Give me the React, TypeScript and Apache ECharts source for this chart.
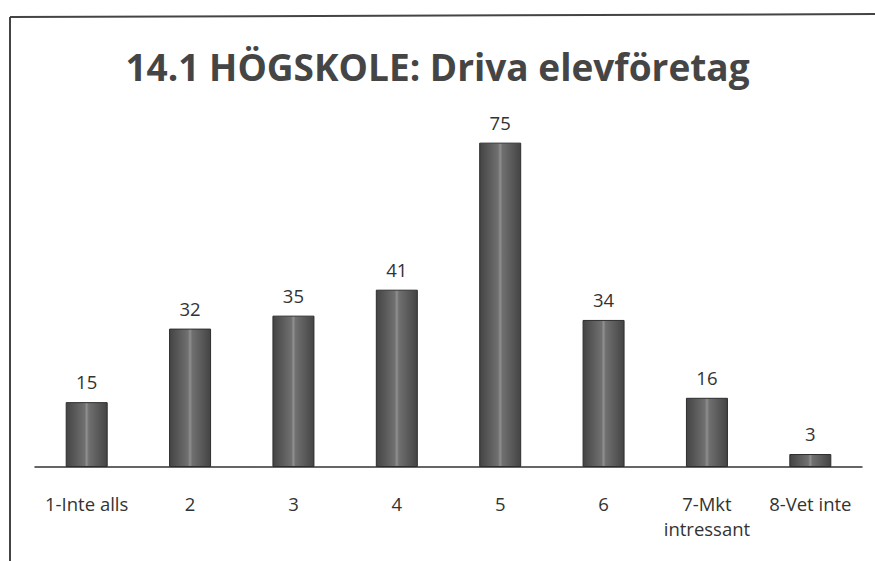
import React, { useEffect, useRef } from "react";
import * as echarts from "echarts";

const categories = ["1-Inte alls", "2", "3", "4", "5", "6", "7-Mkt\nintressant", "8-Vet inte"];
const values = [15, 32, 35, 41, 75, 34, 16, 3];
const titleText = "14.1 HÖGSKOLE: Driva elevföretag";

export default function App() {
  const ref = useRef<HTMLDivElement>(null);
  useEffect(() => {
    if (!ref.current) return;
    const chart = echarts.init(ref.current, null, { renderer: "svg" });
    chart.setOption({
      animation: false,
      backgroundColor: "#ffffff",
      title: {
        text: titleText,
        left: "center",
        top: 43,
        textStyle: { fontFamily: "Open Sans", fontWeight: "bold", fontSize: 37, color: "#454545" },
      },
      grid: { left: 35, right: 13, top: 121, bottom: 94 },
      xAxis: {
        type: "category",
        data: categories,
        axisLine: { lineStyle: { color: "#333", width: 1.5 } },
        axisTick: { show: false },
        axisLabel: { fontFamily: "Open Sans", fontSize: 18.5, color: "#333", margin: 24, lineHeight: 25, interval: 0 },
      },
      yAxis: {
        type: "value",
        min: 0,
        max: 80,
        show: false,
        splitLine: { show: false },
      },
      series: [
        {
          type: "bar",
          data: values,
          barWidth: 42,
          itemStyle: {
            color: new echarts.graphic.LinearGradient(0, 0, 1, 0, [
              { offset: 0, color: "#444444" },
              { offset: 0.45, color: "#707070" },
              { offset: 0.5, color: "#909090" },
              { offset: 0.55, color: "#707070" },
              { offset: 1, color: "#444444" },
            ]),
            borderColor: "#2e2e2e",
            borderWidth: 1,
          },
          label: {
            show: true,
            position: "top",
            distance: 11,
            fontFamily: "Open Sans",
            fontSize: 18.5,
            color: "#333",
          },
        },
      ],
      graphic: [
        { type: "line", shape: { x1: 10, y1: 17, x2: 875, y2: 14 }, style: { stroke: "#444", lineWidth: 2 } },
        { type: "line", shape: { x1: 10, y1: 17, x2: 10, y2: 561 }, style: { stroke: "#444", lineWidth: 2 } },
      ],
    });
    return () => chart.dispose();
  }, []);
  return <div ref={ref} style={{ width: 875, height: 561, position: "fixed", left: 0, top: 0 }} />;
}
